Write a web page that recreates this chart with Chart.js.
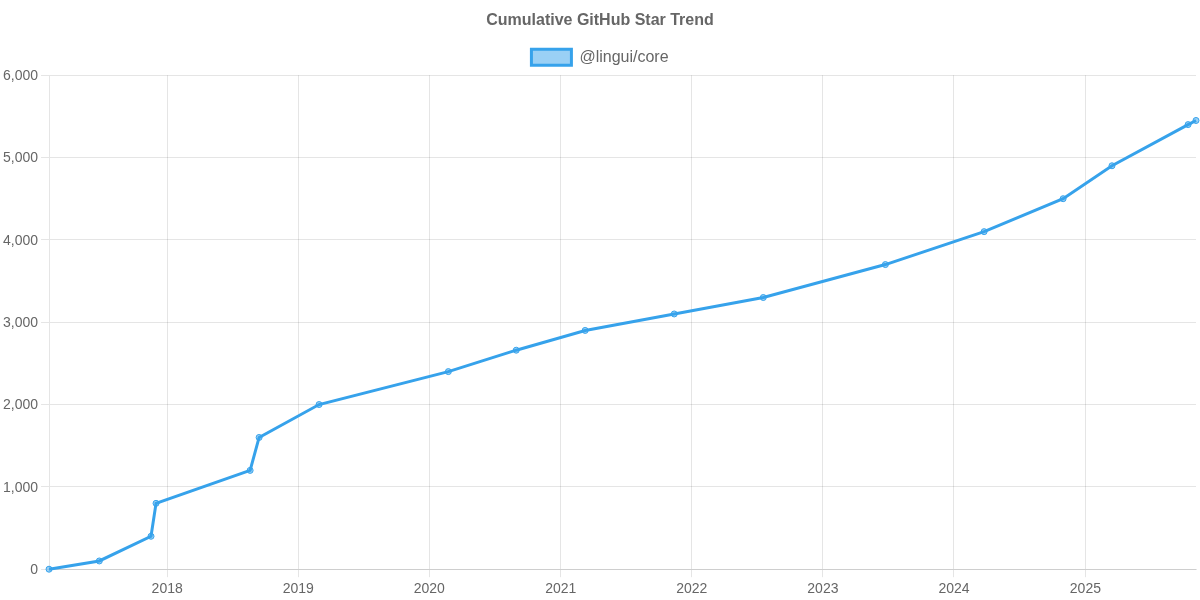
<!DOCTYPE html>
<html>
<head>
<meta charset="utf-8">
<script src="https://cdn.jsdelivr.net/npm/chart.js@4"></script>
<style>
  html, body { margin: 0; padding: 0; background: #fff; overflow: hidden; }
  canvas { display: block; }
</style>
</head>
<body>
<canvas id="chart" width="1200" height="602"></canvas>
<script>
// Star history
const starDates = [
  '2017-02-06', '2017-06-26', '2017-11-17', '2017-12-01', '2018-08-20', '2018-09-14',
  '2019-02-28', '2020-02-23', '2020-08-30', '2021-03-10', '2021-11-13', '2022-07-19',
  '2023-06-24', '2024-03-25', '2024-10-31', '2025-03-16', '2025-10-14', '2025-11-05'
];
const starCounts = [0, 100, 400, 800, 1200, 1600, 2000, 2400, 2660, 2900, 3100, 3300, 3700, 4100, 4500, 4900, 5400, 5450];
const tickYears = [2018, 2019, 2020, 2021, 2022, 2023, 2024, 2025];
const seriesName = '@lingui/core';

const toMs = d => Date.parse(d + 'T00:00:00Z');
const textColor = '#666';
const font = 'Liberation Sans, Arial, Helvetica, sans-serif';

Chart.defaults.font.family = font;
Chart.defaults.color = textColor;

new Chart(document.getElementById('chart'), {
  type: 'line',
  data: {
    datasets: [{
      label: seriesName,
      data: starDates.map((d, i) => ({ x: toMs(d), y: starCounts[i] })),
      borderColor: '#36a2eb',
      backgroundColor: 'rgba(54, 162, 235, 0.5)',
      borderWidth: 3,
      pointRadius: 3,
      pointHoverRadius: 3,
      pointBorderWidth: 1,
      tension: 0,
      clip: false
    }]
  },
  options: {
    responsive: false,
    animation: false,
    plugins: {
      title: {
        display: true,
        text: 'Cumulative GitHub Star Trend',
        font: { size: 16, weight: 'bold' },
        color: textColor,
        padding: { top: 11, bottom: 9 }
      },
      legend: {
        labels: { font: { size: 16 }, color: textColor }
      }
    },
    scales: {
      x: {
        type: 'linear',
        min: toMs(starDates[0]),
        max: toMs(starDates[starDates.length - 1]),
        afterBuildTicks: axis => {
          axis.ticks = tickYears.map(y => ({ value: Date.UTC(y, 0, 1) }));
        },
        ticks: {
          font: { size: 14 },
          maxRotation: 0,
          autoSkip: false,
          padding: 4,
          callback: value => String(new Date(value).getUTCFullYear())
        }
      },
      y: {
        min: 0,
        max: 6000,
        ticks: { stepSize: 1000, font: { size: 14 }, labelOffset: 1 }
      }
    }
  }
});
</script>
</body>
</html>
